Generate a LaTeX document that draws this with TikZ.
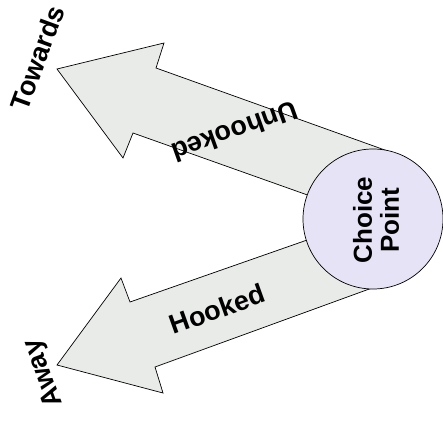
\documentclass[tikz,border=0pt]{standalone}
\usepackage{fontspec}
\setmainfont{Liberation Sans}
\definecolor{arrowfill}{HTML}{E9EBE9}
\definecolor{cpfill}{HTML}{E7E3F6}
\begin{document}
\begin{tikzpicture}[x=1pt,y=-1pt,
  blockarrow/.style={draw=black,line width=0.7pt,fill=arrowfill,line join=miter},
  lbl/.style={font=\fontsize{27}{29}\selectfont\bfseries,inner sep=0pt,align=center}]
\useasboundingbox (0,0) rectangle (443,420);
% top arrow (Unhooked)
\coordinate (t-tip) at (57,69);
\coordinate (t-c1) at (164,43);
\coordinate (t-i1) at (156,68);
\coordinate (t-e1) at (396,154);
\coordinate (ctr) at (373,219);
\coordinate (t-e2) at (330,203);
\coordinate (t-i2) at (133,133);
\coordinate (t-c2) at (123,158);
\draw[blockarrow] (t-tip) -- (t-c1) -- (t-i1) -- (t-e1) -- (ctr) -- (t-e2) -- (t-i2) -- (t-c2) -- cycle;
% bottom arrow (Hooked)
\coordinate (b-tip) at (57,365);
\coordinate (b-c1) at (121,278);
\coordinate (b-i1) at (130,302);
\coordinate (b-e1) at (330,232);
\coordinate (b-e2) at (394,280);
\coordinate (b-i2) at (155,367);
\coordinate (b-c2) at (163,393);
\draw[blockarrow] (b-tip) -- (b-c1) -- (b-i1) -- (b-e1) -- (ctr) -- (b-e2) -- (b-i2) -- (b-c2) -- cycle;
% choice point
\node[circle,draw=black,line width=0.7pt,fill=cpfill,minimum size=140pt,inner sep=0pt] (cp) at (ctr) {};
\node[lbl,font=\fontsize{26}{27}\selectfont\bfseries,rotate=90] (cptext) at (376,220) {Choice\\Point};
% labels
\node[lbl,rotate=199.7] (unhooked) at (235,132) {Unhooked};
\node[lbl,rotate=19.7] (hooked) at (217,309) {Hooked};
\node[lbl,rotate=70] (towards) at (37.5,58) {Towards};
\node[lbl,rotate=110] (away) at (44,373) {Away};
\end{tikzpicture}
\end{document}
